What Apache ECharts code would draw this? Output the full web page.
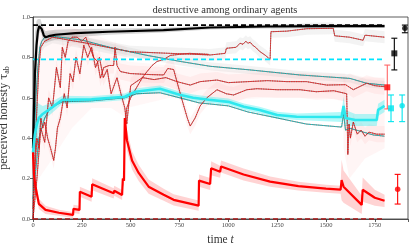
<!DOCTYPE html>
<html><head><meta charset="utf-8">
<script src="https://cdn.jsdelivr.net/npm/echarts@6/dist/echarts.min.js"></script>
<style>html,body{margin:0;padding:0;background:#fff}#c{width:415px;height:249px}</style>
</head><body><div id="c"></div>
<script>
// ---- tick labels ----
const xTicks = [0, 250, 500, 750, 1000, 1250, 1500, 1750];
const yTicks = [0.0, 0.2, 0.4, 0.6, 0.8, 1.0];

// ---- reference (dashed) levels ----
const refX = [0, 1800];
const refBlack = 0.96, refCyan = 0.79, refRed = 0.0;

// ---- black mean ----
const blackX = [0, 5, 10, 18, 25, 32, 38, 45, 55, 64, 80, 115, 217, 387, 668, 907, 1200, 1500, 1800];
const blackY = [0.35, 0.55, 0.72, 0.86, 0.93, 0.955, 0.96, 0.94, 0.91, 0.9, 0.905, 0.912, 0.92, 0.927, 0.935, 0.948, 0.953, 0.955, 0.955];
const blackHW = [0.25, 0.25, 0.2, 0.12, 0.06, 0.035, 0.03, 0.03, 0.03, 0.03, 0.028, 0.025, 0.02, 0.015, 0.012, 0.01, 0.01, 0.01, 0.01];

// ---- cyan mean ----
const cyanX = [0, 10, 20, 30, 50, 80, 115, 150, 300, 470, 525, 650, 750, 820, 900, 1000, 1080, 1160, 1250, 1350, 1580, 1590, 1600, 1650, 1760, 1767, 1800];
const cyanY = [0.33, 0.42, 0.47, 0.5, 0.52, 0.54, 0.565, 0.59, 0.592, 0.605, 0.63, 0.645, 0.615, 0.6, 0.59, 0.58, 0.556, 0.54, 0.515, 0.506, 0.505, 0.56, 0.5, 0.49, 0.49, 0.54, 0.56];
const cyanHW = [0.14, 0.13, 0.11, 0.07, 0.04, 0.03, 0.025, 0.02, 0.016, 0.016, 0.016, 0.016, 0.016, 0.016, 0.016, 0.016, 0.016, 0.016, 0.016, 0.016, 0.025, 0.045, 0.04, 0.03, 0.03, 0.03, 0.03];

// ---- red mean ----
const redX = [0, 5, 13, 30, 64, 132, 205, 207, 238, 240, 300, 303, 413, 416, 456, 460, 466, 470, 481, 507, 541, 592, 669, 720, 848, 850, 907, 912, 958, 963, 1078, 1214, 1359, 1500, 1575, 1580, 1590, 1683, 1688, 1750, 1800];
const redY = [0.33, 0.22, 0.16, 0.075, 0.045, 0.031, 0.02, 0.05, 0.045, 0.135, 0.11, 0.172, 0.127, 0.14, 0.119, 0.2, 0.19, 0.5, 0.39, 0.29, 0.228, 0.16, 0.12, 0.095, 0.066, 0.19, 0.173, 0.251, 0.234, 0.26, 0.22, 0.185, 0.163, 0.15, 0.145, 0.193, 0.16, 0.07, 0.145, 0.105, 0.09];
const redHW = [0.05, 0.04, 0.035, 0.025, 0.02, 0.015, 0.015, 0.02, 0.02, 0.025, 0.025, 0.03, 0.025, 0.025, 0.025, 0.03, 0.03, 0.03, 0.05, 0.045, 0.04, 0.035, 0.03, 0.028, 0.025, 0.03, 0.03, 0.035, 0.03, 0.03, 0.03, 0.025, 0.022, 0.02, 0.02, 0.1, 0.08, 0.045, 0.06, 0.04, 0.03];

// ---- individual cyan runs ----
const c1X = [0, 8, 15, 25, 35, 45, 60, 100, 250, 413, 584, 754, 907, 1112, 1367, 1623, 1708, 1800];
const c1Y = [0.3, 0.45, 0.6, 0.75, 0.85, 0.88, 0.9, 0.905, 0.886, 0.845, 0.81, 0.78, 0.756, 0.738, 0.713, 0.696, 0.672, 0.663];
const c2X = [0, 10, 20, 30, 45, 60, 90, 150, 300, 470, 530, 650, 750, 850, 1000, 1100, 1250, 1400, 1580, 1590, 1600, 1623, 1742, 1800];
const c2Y = [0.1, 0.2, 0.3, 0.4, 0.45, 0.5, 0.55, 0.58, 0.585, 0.6, 0.62, 0.625, 0.6, 0.575, 0.56, 0.53, 0.5, 0.47, 0.455, 0.52, 0.44, 0.449, 0.416, 0.41];

// ---- individual red runs ----
const r1X = [0, 10, 20, 30, 40, 60, 100, 277, 498, 703, 907, 984, 990, 1040, 1060, 1075, 1090, 1100, 1112, 1125, 1140, 1160, 1190, 1214, 1218, 1300, 1402, 1537, 1545, 1620, 1690, 1700, 1800];
const r1Y = [0.05, 0.3, 0.55, 0.75, 0.85, 0.88, 0.9, 0.87, 0.828, 0.82, 0.812, 0.82, 0.845, 0.85, 0.87, 0.865, 0.88, 0.87, 0.875, 0.86, 0.85, 0.83, 0.81, 0.79, 0.927, 0.93, 0.942, 0.944, 0.907, 0.9, 0.885, 0.91, 0.9];
const r2X = [0, 20, 40, 60, 80, 100, 120, 140, 150, 165, 180, 200, 226, 250, 270, 285, 294, 310, 330, 345, 362, 390, 413, 420, 430, 447, 498, 600, 669, 690, 720, 737, 805, 856, 942, 1000, 1100, 1200, 1300, 1400, 1504, 1600, 1640, 1708, 1750, 1800];
const r2Y = [0.0, 0.2, 0.45, 0.38, 0.6, 0.55, 0.75, 0.65, 0.85, 0.8, 0.88, 0.9, 0.9, 0.88, 0.9, 0.86, 0.845, 0.8, 0.78, 0.697, 0.75, 0.76, 0.76, 0.85, 0.76, 0.73, 0.72, 0.715, 0.713, 0.745, 0.74, 0.68, 0.663, 0.68, 0.688, 0.675, 0.68, 0.685, 0.68, 0.68, 0.663, 0.665, 0.64, 0.672, 0.66, 0.655];
const r3X = [0, 10, 20, 30, 40, 50, 60, 75, 90, 106, 115, 125, 140, 160, 175, 190, 205, 220, 240, 260, 280, 300, 320, 340, 360, 380, 400, 430, 450, 470, 480, 500, 560, 620, 680, 737, 760, 790, 805, 830, 856, 890, 942, 990, 1027, 1095, 1146, 1250, 1367, 1450, 1540, 1606, 1612, 1618, 1625, 1640, 1660, 1680, 1700, 1720, 1760, 1800];
const r3Y = [0.0, 0.25, 0.4, 0.35, 0.5, 0.45, 0.48, 0.4, 0.35, 0.29, 0.35, 0.45, 0.5, 0.62, 0.55, 0.72, 0.68, 0.8, 0.72, 0.86, 0.8, 0.85, 0.75, 0.8, 0.7, 0.74, 0.62, 0.7, 0.62, 0.55, 0.47, 0.66, 0.7, 0.69, 0.7, 0.68, 0.6, 0.5, 0.46, 0.5, 0.56, 0.6, 0.64, 0.62, 0.614, 0.64, 0.645, 0.64, 0.64, 0.63, 0.635, 0.62, 0.32, 0.47, 0.4, 0.48, 0.42, 0.44, 0.41, 0.43, 0.42, 0.42];
const r4X = [470, 480, 500, 533, 560, 584, 610, 635, 670, 703, 750, 800, 850, 900];
const r4Y = [0.45, 0.55, 0.6, 0.655, 0.7, 0.73, 0.76, 0.78, 0.79, 0.81, 0.815, 0.82, 0.818, 0.815];

// ---- faint pink haze regions (spread of red runs) ----
const hazeAX = [0, 30, 100, 200, 300, 400, 480];
const hazeALo = [0.0, 0.2, 0.3, 0.45, 0.55, 0.55, 0.5];
const hazeAHi = [0.5, 0.95, 0.95, 0.95, 0.92, 0.88, 0.85];
const hazeBX = [480, 700, 900, 1200, 1500, 1600];
const hazeBLo = [0.55, 0.6, 0.58, 0.6, 0.6, 0.58];
const hazeBHi = [0.78, 0.76, 0.74, 0.73, 0.72, 0.72];
const hazeCX = [1590, 1620, 1700, 1800];
const hazeCLo = [0.35, 0.2, 0.3, 0.35];
const hazeCHi = [0.7, 0.72, 0.7, 0.7];

// ---- summary markers with error bars ----
const mkX = [1904, 1850, 1814, 1833, 1890, 1867];
const mkY = [0.944, 0.82, 0.652, 0.548, 0.561, 0.147];
const mkLo = [0.922, 0.738, 0.545, 0.482, 0.482, 0.074];
const mkHi = [0.96, 0.895, 0.762, 0.614, 0.614, 0.221];
const mkShape = ['circle', 'rect', 'rect', 'rect', 'circle', 'circle'];
const mkColor = ['#000000', '#000000', '#ff0000', '#00e5ee', '#00e5ee', '#ff0000'];
const mkBarColor = ['#000000', '#000000', '#ff6666', '#00e5ee', '#00e5ee', '#ff0000'];

// ---------------------------------------------
const pairs = (xs, ys) => xs.map((x, i) => [x, ys[i]]);
const clamp = v => Math.max(0, Math.min(1, v));

function band(xs, lo, hi, color, opacity, z) {
  return {
    type: 'custom', silent: true, z: z, animation: false,
    data: [[xs[0], lo[0]]],
    renderItem: function (params, api) {
      const up = xs.map((x, i) => api.coord([x, clamp(hi[i])]));
      const dn = xs.map((x, i) => api.coord([x, clamp(lo[i])])).reverse();
      return { type: 'polygon', shape: { points: up.concat(dn) }, style: { fill: color, opacity: opacity } };
    }
  };
}
function bandHW(xs, ys, hw, color, opacity, z) {
  const h = Array.isArray(hw) ? hw : xs.map(() => hw);
  return band(xs, ys.map((y, i) => y - h[i]), ys.map((y, i) => y + h[i]), color, opacity, z);
}
function line(xs, ys, color, width, type, z) {
  return {
    type: 'line', data: pairs(xs, ys), symbol: 'none', silent: true, z: z, animation: false,
    lineStyle: { color: color, width: width, type: type }
  };
}

const series = [];
// haze
series.push(band(hazeAX, hazeALo, hazeAHi, '#ffb0b0', 0.1, 1));
series.push(band(hazeBX, hazeBLo, hazeBHi, '#ffb0b0', 0.1, 1));
series.push(band(hazeCX, hazeCLo, hazeCHi, '#ffb0b0', 0.12, 1));
// run bands
series.push(bandHW(r1X, r1Y, 0.03, '#b0b0b0', 0.15, 1));
series.push(bandHW(c1X, c1Y, 0.02, '#b0b0b0', 0.15, 1));
series.push(bandHW(r2X, r2Y, 0.04, '#ffa0a0', 0.12, 1));
series.push(bandHW(r3X, r3Y, 0.04, '#ffa0a0', 0.12, 1));
// mean bands
series.push(bandHW(blackX, blackY, blackHW, '#9a9a9a', 0.4, 2));
series.push(bandHW(cyanX, cyanY, cyanHW, '#40f0f0', 0.4, 2));
series.push(bandHW(redX, redY, redHW, '#ff9090', 0.4, 2));
// runs
const runs = [[c1X, c1Y, '#00d8d8'], [c2X, c2Y, '#00d8d8'], [r1X, r1Y, '#ff1a1a'], [r2X, r2Y, '#ff1a1a'], [r3X, r3Y, '#ff1a1a'], [r4X, r4Y, '#ff1a1a']];
runs.forEach(r => {
  const dark = r[2] === '#ff1a1a' ? '#5a0808' : '#1a1a1a';
  series.push(line(r[0], r[1], dark, 0.6, 'solid', 3));
  series.push(line(r[0], r[1], r[2], 0.9, [1.2, 1.2], 4));
});
// reference dashed levels
series.push(line(refX, refX.map(() => refBlack), '#000000', 1.6, [5, 3], 5));
series.push(line(refX, refX.map(() => refCyan), '#00e5ff', 1.8, [5, 3], 5));
series.push(line(refX, refX.map(() => refRed), '#b01515', 1.6, [5, 3], 5));
// mean lines
series.push(line(blackX, blackY, '#000000', 2.2, 'solid', 6));
series.push(line(cyanX, cyanY, '#2ee8ee', 2.6, 'solid', 6));
series.push(line(redX, redY, '#ff0000', 2.2, 'solid', 6));
// error bars
series.push({
  type: 'custom', silent: true, z: 7, animation: false,
  data: mkX.map((x, i) => [x, mkLo[i], mkHi[i], i]),
  renderItem: function (params, api) {
    const i = api.value(3);
    const lo = api.coord([api.value(0), api.value(1)]);
    const hi = api.coord([api.value(0), api.value(2)]);
    const c = mkBarColor[i], w = 3;
    const st = { stroke: c, lineWidth: 1.1 };
    return { type: 'group', children: [
      { type: 'line', shape: { x1: lo[0], y1: lo[1], x2: hi[0], y2: hi[1] }, style: st },
      { type: 'line', shape: { x1: lo[0] - w, y1: lo[1], x2: lo[0] + w, y2: lo[1] }, style: st },
      { type: 'line', shape: { x1: hi[0] - w, y1: hi[1], x2: hi[0] + w, y2: hi[1] }, style: st }
    ] };
  }
});
// markers
mkX.forEach((x, i) => {
  series.push({
    type: 'scatter', silent: true, z: 8, animation: false,
    data: [[x, mkY[i]]], symbol: mkShape[i], symbolSize: mkShape[i] === 'rect' ? 6 : 5.5,
    itemStyle: { color: mkColor[i] }
  });
});

const chart = echarts.init(document.getElementById('c'), null, { renderer: 'canvas' });
chart.setOption({
  animation: false,
  backgroundColor: '#ffffff',
  title: {
    text: 'destructive among ordinary agents', left: 220, top: 0, textAlign: 'center',
    textStyle: { fontFamily: 'Liberation Serif', fontSize: 10.5, fontWeight: 'normal', color: '#333' }
  },
  grid: { left: 33, right: 7, top: 17, bottom: 30, containLabel: false, outerBoundsMode: 'none',
    show: true, borderColor: '#333', borderWidth: 0.8, backgroundColor: 'transparent' },
  xAxis: {
    type: 'value', min: 0, max: 1920, interval: 250,
    name: '{a|time }{b|t}', nameLocation: 'middle', nameGap: 13,
    nameTextStyle: { rich: {
      a: { fontFamily: 'Liberation Serif', fontSize: 11.5, color: '#333' },
      b: { fontFamily: 'Liberation Serif', fontSize: 11.5, fontStyle: 'italic', color: '#333' } } },
    axisLine: { lineStyle: { color: '#333', width: 0.8 } },
    axisTick: { length: 3, lineStyle: { color: '#333', width: 0.8 } },
    axisLabel: { fontFamily: 'Liberation Serif', fontSize: 6.5, color: '#444', margin: 3,
      formatter: v => (xTicks.indexOf(v) >= 0 ? String(v) : '') },
    splitLine: { show: false }
  },
  yAxis: {
    type: 'value', min: 0, max: 1, interval: 0.2,
    name: '{a|perceived honesty }{b|τ̄}{c|ab}', nameLocation: 'middle', nameGap: 16,
    nameTextStyle: { rich: {
      a: { fontFamily: 'Liberation Serif', fontSize: 12, color: '#333' },
      b: { fontFamily: 'DejaVu Serif', fontSize: 11, color: '#333' },
      c: { fontFamily: 'Liberation Serif', fontSize: 8, color: '#333', verticalAlign: 'bottom', padding: [6, 0, 0, 0] } } },
    axisLine: { lineStyle: { color: '#333', width: 0.8 } },
    axisTick: { length: 3, lineStyle: { color: '#333', width: 0.8 } },
    axisLabel: { fontFamily: 'Liberation Serif', fontSize: 6.5, color: '#444', margin: 3,
      formatter: v => (yTicks.some(t => Math.abs(t - v) < 1e-9) ? v.toFixed(1) : '') },
    splitLine: { show: false }
  },
  series: series
});
</script></body></html>
